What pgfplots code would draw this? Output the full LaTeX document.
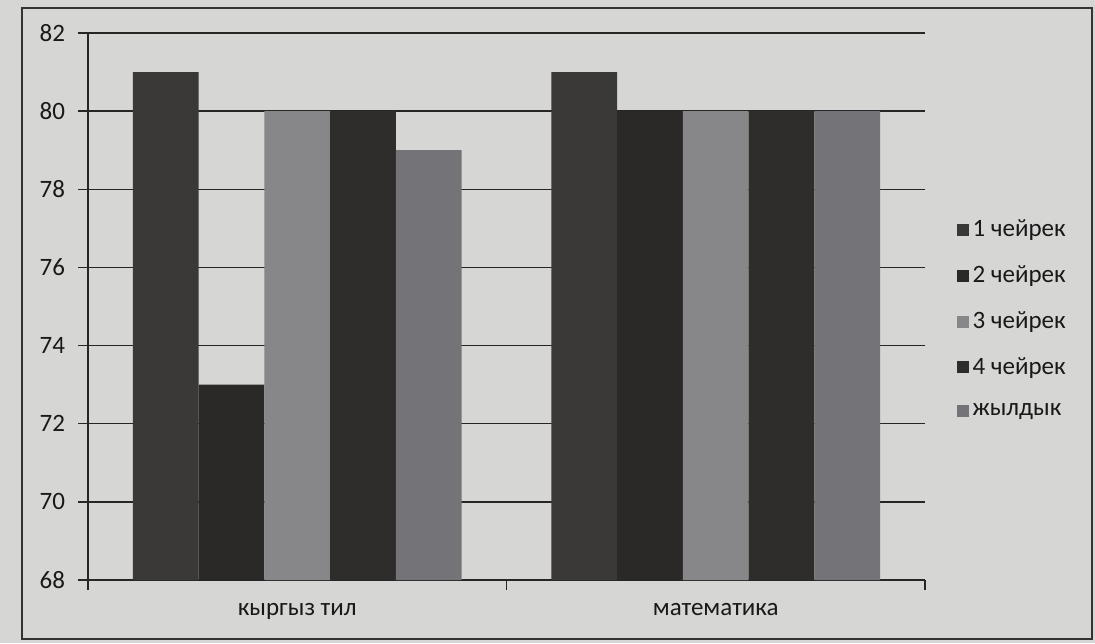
\documentclass[border=0pt]{standalone}
\usepackage{pgfplots}
\pgfplotsset{compat=1.18}
\usepackage{fontspec}
\setmainfont{Carlito}
\definecolor{bg}{HTML}{D6D6D4}
\definecolor{sa}{HTML}{3B3938}
\definecolor{sb}{HTML}{2A2927}
\definecolor{sc}{HTML}{87878A}
\definecolor{sd}{HTML}{2E2D2B}
\definecolor{se}{HTML}{737378}
\begin{document}
\begin{tikzpicture}
\fill[bg] (0,0) rectangle (547.5pt,321.5pt);
\draw[black!80, line width=0.8pt] (11pt,2pt) rectangle (546pt,317.5pt);
\begin{axis}[
  at={(44pt,31.5pt)}, anchor=south west,
  scale only axis, width=418.5pt, height=273.5pt,
  ybar=0pt, bar width=0.157,
  xmin=0, xmax=2, ymin=68, ymax=82,
  ytick={68,70,...,82},
  xtick={0,1,2}, xticklabels={},
  extra x ticks={0.5,1.5},
  extra x tick labels={кыргыз тил, математика},
  extra x tick style={major tick length=0pt, xticklabel style={yshift=-8pt}},
  axis lines=left, axis line style={-, black!85, line width=0.7pt},
  tick align=outside, major tick length=5pt,
  tick style={black!85, line width=0.7pt},
  ymajorgrids, grid style={black!85, line width=0.7pt},
  every tick label/.append style={font=\fontsize{12.5pt}{15pt}\selectfont, text=black!90},
  yticklabel style={xshift=-3pt},
  /pgf/number format/assume math mode=true,
  legend style={at={(1.03,0.477)}, anchor=west, draw=none, fill=none,
    font=\fontsize{12.5pt}{15pt}\selectfont, row sep=9pt, text=black!90},
  legend cell align=left,
  legend image code/.code={\fill[#1] (0pt,-3pt) rectangle (6pt,3pt);},
]
\addplot[fill=sa, draw=none] coordinates {(0.5,81) (1.5,81)};
\addplot[fill=sb, draw=none] coordinates {(0.5,73) (1.5,80)};
\addplot[fill=sc, draw=none] coordinates {(0.5,80) (1.5,80)};
\addplot[fill=sd, draw=none] coordinates {(0.5,80) (1.5,80)};
\addplot[fill=se, draw=none] coordinates {(0.5,79) (1.5,80)};
\legend{1 чейрек, 2 чейрек, 3 чейрек, 4 чейрек, жылдык}
\end{axis}
\pgfresetboundingbox
\path (0,0) rectangle (547.5pt,321.5pt);
\end{tikzpicture}
\end{document}
